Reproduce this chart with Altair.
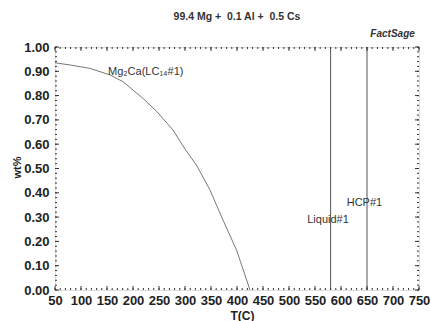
import altair as alt
import pandas as pd

# Mg2Ca(LC14#1) curve
curve_T = [50, 79, 117, 156, 181, 219, 246, 277, 300, 322, 348, 373, 399, 425]
curve_wt = [0.935, 0.926, 0.912, 0.885, 0.857, 0.789, 0.734, 0.658, 0.58, 0.514, 0.412, 0.288, 0.165, 0.0]

# vertical phase lines
vline_T = [580, 650]
vline_lo = [0.0, 0.0]
vline_hi = [1.0, 1.0]

# labels
label_text = ["Mg\u2082Ca(LC\u2081\u2084#1)", "Liquid#1", "HCP#1"]
label_T = [152, 535, 611]
label_wt = [0.897, 0.288, 0.358]

x_ticks = list(range(50, 751, 50))
x_minor = list(range(50, 751, 10))
y_ticks = [round(i * 0.1, 1) for i in range(0, 11)]
y_minor = [round(i * 0.02, 2) for i in range(0, 51)]

title_text = "99.4 Mg +\u00a0 0.1 Al +\u00a0 0.5 Cs"
logo_text = "FactSage"

W, H = 364, 243
FONT = "Liberation Sans"

xs = alt.Scale(domain=[50, 750], nice=False, zero=False)
ys = alt.Scale(domain=[0, 1], nice=False, zero=False)

x_axis = alt.Axis(values=x_ticks, title="T(C)", domain=False, ticks=False, grid=False,
                  labelFont=FONT, labelFontSize=13, labelFontWeight="bold", labelColor="#222",
                  labelOverlap=False, labelPadding=4, labelFlush=False,
                  titleFont=FONT, titleFontSize=12, titleFontWeight="bold", titleColor="#222",
                  titleX=187, titleY=20, titleBaseline="top")
y_axis = alt.Axis(values=y_ticks, format=".2f", title="wt%", domain=False, ticks=False, grid=False,
                  labelFont=FONT, labelFontSize=13, labelFontWeight="bold", labelColor="#222",
                  labelOverlap=False, labelPadding=6, labelFlush=False,
                  titleFont=FONT, titleFontSize=11, titleFontWeight="bold", titleColor="#222",
                  titleX=-33, titleY=120, titleAngle=-90)

X = lambda f: alt.X(f, scale=xs, axis=x_axis)
Y = lambda f: alt.Y(f, scale=ys, axis=y_axis)

curve_df = pd.DataFrame({"T": curve_T, "wt": curve_wt})
curve = alt.Chart(curve_df).mark_line(color="#777", strokeWidth=1).encode(
    x=X("T:Q"), y=Y("wt:Q"))

vl_df = pd.DataFrame({"T": vline_T, "lo": vline_lo, "hi": vline_hi})
vlines = alt.Chart(vl_df).mark_rule(color="#555", strokeWidth=1).encode(
    x=X("T:Q"), y=Y("lo:Q"), y2="hi:Q")

lab_df = pd.DataFrame({"t": label_text, "T": label_T, "wt": label_wt})
labels = alt.Chart(lab_df).mark_text(align="left", baseline="middle", font=FONT, fontSize=11,
                                      color="#333").encode(
    x=X("T:Q"), y=Y("wt:Q"), text="t:N")

logo_df = pd.DataFrame({"t": [logo_text], "T": [742], "wt": [1.053]})
logo = alt.Chart(logo_df).mark_text(align="right", baseline="middle", font=FONT, fontSize=10,
                                     fontWeight="bold", fontStyle="italic", color="#333",
                                     clip=False).encode(
    x=X("T:Q"), y=Y("wt:Q"), text="t:N")

xt_df = pd.DataFrame({"T": x_ticks})
xm_df = pd.DataFrame({"T": x_minor})
yt_df = pd.DataFrame({"wt": y_ticks})
ym_df = pd.DataFrame({"wt": y_minor})

tick_style = dict(color="#333", strokeWidth=1)
bx = alt.Chart(xt_df).mark_rule(**tick_style).encode(x=X("T:Q"), y=alt.value(H), y2=alt.value(H - 4))
tx = alt.Chart(xt_df).mark_rule(**tick_style).encode(x=X("T:Q"), y=alt.value(0), y2=alt.value(4))
bxm = alt.Chart(xm_df).mark_rule(**tick_style).encode(x=X("T:Q"), y=alt.value(H), y2=alt.value(H - 2))
txm = alt.Chart(xm_df).mark_rule(**tick_style).encode(x=X("T:Q"), y=alt.value(0), y2=alt.value(2))
ly = alt.Chart(yt_df).mark_rule(**tick_style).encode(y=Y("wt:Q"), x=alt.value(0), x2=alt.value(4))
ry = alt.Chart(yt_df).mark_rule(**tick_style).encode(y=Y("wt:Q"), x=alt.value(W), x2=alt.value(W - 4))
lym = alt.Chart(ym_df).mark_rule(**tick_style).encode(y=Y("wt:Q"), x=alt.value(0), x2=alt.value(2))
rym = alt.Chart(ym_df).mark_rule(**tick_style).encode(y=Y("wt:Q"), x=alt.value(W), x2=alt.value(W - 2))

chart = alt.layer(curve, vlines, labels, logo, bx, tx, bxm, txm, ly, ry, lym, rym).properties(
    width=W, height=H,
    title=alt.TitleParams(title_text, font=FONT, fontSize=10.5, fontWeight="bold", color="#333",
                          anchor="middle", offset=7),
    autosize=alt.AutoSizeParams(type="none"),
    padding={"left": 55, "top": 47, "right": 12, "bottom": 31},
).configure_view(stroke="#222", strokeWidth=1).configure(background="white")

chart.save("out.html", embed_options={"renderer": "svg", "actions": False})
